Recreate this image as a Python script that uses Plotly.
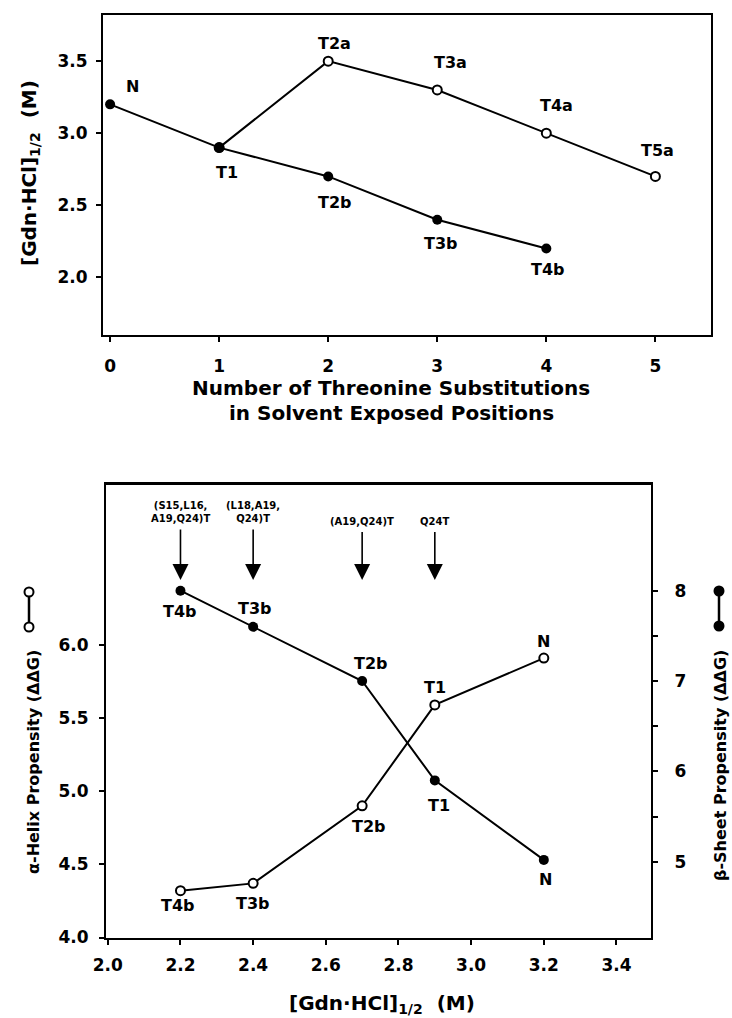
import plotly.graph_objects as go

# ---------------- data ----------------
# top panel: number of threonine substitutions vs [Gdn-HCl]1/2
top_b_x = [0, 1, 2, 3, 4]
top_b_y = [3.2, 2.9, 2.7, 2.4, 2.2]
top_b_labels = ["N", "T1", "T2b", "T3b", "T4b"]

top_a_x = [1, 2, 3, 4, 5]
top_a_y = [2.9, 3.5, 3.3, 3.0, 2.7]
top_a_labels = ["", "T2a", "T3a", "T4a", "T5a"]

top_xticks = [0, 1, 2, 3, 4, 5]
top_yticks = [2.0, 2.5, 3.0, 3.5]

# bottom panel: [Gdn-HCl]1/2 vs propensities
bot_x = [2.2, 2.4, 2.7, 2.9, 3.2]
bot_labels = ["T4b", "T3b", "T2b", "T1", "N"]
helix = [4.32, 4.37, 4.90, 5.59, 5.91]
sheet = [8.0, 7.6, 7.0, 5.9, 5.02]

arrow_x = [2.2, 2.4, 2.7, 2.9]
arrow_text = ["(S15,L16,<br>A19,Q24)T", "(L18,A19,<br>Q24)T", "(A19,Q24)T", "Q24T"]

bot_xticks = [2.0, 2.2, 2.4, 2.6, 2.8, 3.0, 3.2, 3.4]
helix_ticks = [4.0, 4.5, 5.0, 5.5, 6.0]
sheet_ticks = [5, 6, 7, 8]
sheet_minor = [5.5, 6.5, 7.5]

# label pixel offsets (dx, dy; dy positive = down)
top_b_off = [(22, -18), (8, 25), (7, 26), (4, 24), (2, 21)]
top_a_off = [(0, 0), (6, -18), (13, -27), (10, -28), (2, -26)]
sheet_off = [(0, 21), (2, -18), (9, -18), (4, 25), (2, 20)]
helix_off = [(-2, 15), (0, 20), (7, 21), (0, -17), (0, -17)]

W, H = 732, 1018
FONT = "DejaVu Sans, Arial, sans-serif"


def px(x):
    return x / W


def py(y):
    return 1 - y / H


fig = go.Figure()

# top panel traces
fig.add_trace(go.Scatter(
    x=top_a_x, y=top_a_y, mode="lines+markers", xaxis="x", yaxis="y",
    line=dict(color="black", width=2),
    marker=dict(symbol="circle", size=9, color="white", line=dict(color="black", width=2)),
    showlegend=False, hoverinfo="skip"))
fig.add_trace(go.Scatter(
    x=top_b_x, y=top_b_y, mode="lines+markers", xaxis="x", yaxis="y",
    line=dict(color="black", width=2),
    marker=dict(symbol="circle", size=10, color="black"),
    showlegend=False, hoverinfo="skip"))

# bottom panel traces
fig.add_trace(go.Scatter(
    x=bot_x, y=helix, mode="lines+markers", xaxis="x2", yaxis="y2",
    line=dict(color="black", width=2),
    marker=dict(symbol="circle", size=9, color="white", line=dict(color="black", width=2)),
    showlegend=False, hoverinfo="skip"))
fig.add_trace(go.Scatter(
    x=bot_x, y=sheet, mode="lines+markers", xaxis="x2", yaxis="y3",
    line=dict(color="black", width=2),
    marker=dict(symbol="circle", size=10, color="black"),
    showlegend=False, hoverinfo="skip"))

ann = []
lab_font = dict(family=FONT, size=16, color="black")


def add_labels(xs, ys, labels, offs, xref, yref):
    for xv, yv, t, (dx, dy) in zip(xs, ys, labels, offs):
        if not t:
            continue
        ann.append(dict(x=xv, y=yv, xref=xref, yref=yref, text="<b>%s</b>" % t,
                        showarrow=False, xshift=dx, yshift=-dy,
                        xanchor="center", yanchor="middle", font=lab_font))


add_labels(top_b_x, top_b_y, top_b_labels, top_b_off, "x", "y")
add_labels(top_a_x, top_a_y, top_a_labels, top_a_off, "x", "y")
add_labels(bot_x, sheet, bot_labels, sheet_off, "x2", "y3")
add_labels(bot_x, helix, bot_labels, helix_off, "x2", "y2")

# arrows with mutation labels
for xv, t in zip(arrow_x, arrow_text):
    two = "<br>" in t
    ann.append(dict(x=xv, y=py(580), xref="x2", yref="paper", text="<b>%s</b>" % t,
                    showarrow=True, ax=0, ay=(-68 if two else -59),
                    arrowhead=2, arrowsize=2.0, arrowwidth=1.6, arrowcolor="black",
                    startstandoff=5, borderpad=0,
                    font=dict(family=FONT, size=10, color="black")))

# axis titles
title_font = dict(family=FONT, size=20, color="black")
ann.append(dict(x=px(391), y=py(388), xref="paper", yref="paper",
                text="<b>Number of Threonine Substitutions</b>",
                showarrow=False, xanchor="center", yanchor="middle", font=title_font))
ann.append(dict(x=px(391), y=py(413), xref="paper", yref="paper",
                text="<b>in Solvent Exposed Positions</b>",
                showarrow=False, xanchor="center", yanchor="middle", font=title_font))
ann.append(dict(x=px(30), y=py(173), xref="paper", yref="paper", textangle=-90,
                text="<b>[Gdn·HCl]<sub>1/2</sub>  (M)</b>",
                showarrow=False, xanchor="center", yanchor="middle", font=title_font))
ann.append(dict(x=px(382), y=py(1004), xref="paper", yref="paper",
                text="<b>[Gdn·HCl]<sub>1/2</sub>  (M)</b>",
                showarrow=False, xanchor="center", yanchor="middle", font=title_font))
ann.append(dict(x=px(33), y=py(762), xref="paper", yref="paper", textangle=-90,
                text="<b>α-Helix Propensity (ΔΔG)</b>",
                showarrow=False, xanchor="center", yanchor="middle",
                font=dict(family=FONT, size=16, color="black")))
ann.append(dict(x=px(720), y=py(766), xref="paper", yref="paper", textangle=-90,
                text="<b>β-Sheet Propensity (ΔΔG)</b>",
                showarrow=False, xanchor="center", yanchor="middle",
                font=dict(family=FONT, size=16, color="black")))

# legend glyphs next to the propensity titles
shapes = []


def glyph(xc, y_top, y_bot, fill):
    shapes.append(dict(type="line", xref="paper", yref="paper",
                       x0=px(xc), x1=px(xc), y0=py(y_top), y1=py(y_bot),
                       line=dict(color="black", width=2.5)))
    for yc in (y_top, y_bot):
        shapes.append(dict(type="circle", xref="paper", yref="paper",
                           xsizemode="pixel", ysizemode="pixel",
                           xanchor=px(xc), yanchor=py(yc),
                           x0=-4.5, x1=4.5, y0=-4.5, y1=4.5,
                           fillcolor=fill, line=dict(color="black", width=2)))


glyph(29, 592, 627, "white")
glyph(719, 591, 626, "black")

tick_font = dict(family=FONT, size=17, color="black")
axis_common = dict(showline=True, linecolor="black", linewidth=2, ticks="outside",
                   tickcolor="black", tickwidth=2, ticklen=5, showgrid=False,
                   zeroline=False, tickfont=tick_font, automargin=False)

fig.update_layout(
    width=W, height=H,
    margin=dict(l=0, r=0, t=0, b=0, autoexpand=False),
    paper_bgcolor="white", plot_bgcolor="white",
    font=dict(family=FONT, color="black"),
    xaxis=dict(domain=[px(103), px(711)], anchor="y", range=[-0.065, 5.51],
               tickvals=top_xticks, ticktext=["<b>%d</b>" % v for v in top_xticks],
               mirror=True, ticklabelstandoff=10, **axis_common),
    yaxis=dict(domain=[py(335), py(15)], anchor="x", range=[1.6, 3.82],
               tickvals=top_yticks, ticktext=["<b>%.1f</b>" % v for v in top_yticks],
               mirror=True, ticklabelstandoff=5, **axis_common),
    xaxis2=dict(domain=[px(106), px(651)], anchor="y2", range=[1.995, 3.495],
                tickvals=bot_xticks, ticktext=["<b>%.1f</b>" % v for v in bot_xticks],
                mirror=True, ticklabelstandoff=6, **axis_common),
    yaxis2=dict(domain=[py(937.5), py(484)], anchor="x2", range=[4.0, 7.1],
                tickvals=helix_ticks, ticktext=["<b>%.1f</b>" % v for v in helix_ticks],
                ticklabelstandoff=7, **axis_common),
    yaxis3=dict(domain=[py(937.5), py(484)], anchor="x2", overlaying="y2", side="right",
                range=[4.161, 9.181], tickvals=sheet_ticks,
                ticktext=["<b>%d</b>" % v for v in sheet_ticks],
                minor=dict(tickvals=sheet_minor, ticks="outside", ticklen=5,
                           tickwidth=2, tickcolor="black"),
                ticklabelstandoff=13, **axis_common),
    annotations=ann,
    shapes=shapes,
)
# top border of bottom panel
fig.add_shape(type="line", xref="x2 domain", yref="y2 domain", x0=0, x1=1, y0=1, y1=1,
              line=dict(color="black", width=2))

fig.write_html("out.html")
